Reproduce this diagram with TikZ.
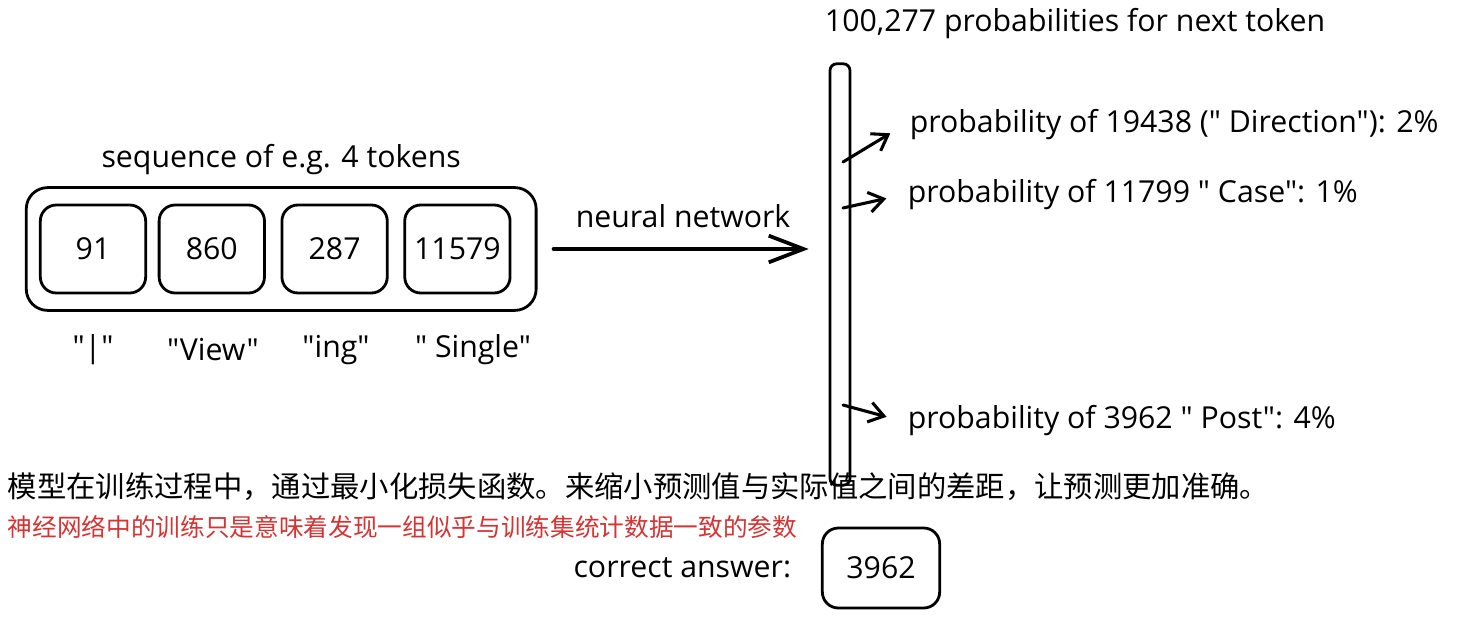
\documentclass[tikz,border=0pt]{standalone}
\usepackage{fontspec}
\setmainfont{Open Sans}[Ligatures={TeXOff,NoCommon}]
\newfontfamily\cjk{Noto Sans CJK SC}
\usetikzlibrary{arrows.meta, positioning, calc, fit}
\definecolor{notered}{RGB}{214,51,51}

\begin{document}
\begin{tikzpicture}[x=0.75pt, y=-0.75pt, line width=2.1pt, node distance=12pt,
		every node/.style={font=\fontsize{22.7}{27}\selectfont},
		tok/.style={draw, rounded corners=12pt, minimum width=79pt, minimum height=66pt, inner sep=0pt},
		arr/.style={-{Straight Barb[length=11pt, width=15pt]}, line width=2.3pt, line cap=round}]
	\useasboundingbox (0,0) rectangle (1476,620);
		\node[tok] (t1) at (93,249) {91};
		\node[tok, right=8pt of t1] (t2) {860};
		\node[tok, right=11pt of t2] (t3) {287};
		\node[tok, right=11pt of t3] (t4) {11579};
		\node[draw, rounded corners=16pt, fit=(t1)(t4), inner xsep=14pt, inner ysep=12pt, xshift=4.5pt] (seq) {};
		\node[above=4pt of seq] {sequence of e.g. 4 tokens};
			\node at (93,350) {"|"};
			\node at (213,350) {"View"};
			\node at (336,350) {"ing"};
			\node at (473,350) {" Single"};
		\node[draw, rounded corners=5pt, minimum width=15pt, minimum height=316pt] (bar) at (840,274.5) {};
		\node at (1075,24) {100,277 probabilities for next token};
		\draw[-{Straight Barb[length=26pt, width=20pt]}, line width=2.8pt, line cap=round, shorten <=12pt, shorten >=15pt] (seq.east) -- node[above=11pt] {neural network} (seq.east -| bar.west);
			\node[anchor=west] (l1) at (904,125) {probability of 19438 (" Direction"): 2\%};
			\node[anchor=west] (l2) at (902,195) {probability of 11799 " Case": 1\%};
			\node[anchor=west] (l3) at (902,421) {probability of 3962 " Post": 4\%};
			\coordinate (p1) at (843,162);
			\coordinate (p2) at (843,208);
			\coordinate (p3) at (843,405);
		\foreach \i in {1,2,3}
			\draw[arr, shorten >=12pt] (p\i) -- (l\i.west);
		\node[anchor=west, font=\cjk\fontsize{22}{26}\selectfont] (loss) at (2,487) {模型在训练过程中，通过最小化损失函数。来缩小预测值与实际值之间的差距，让预测更加准确。};
		\node[anchor=west, text=notered, font=\cjk\fontsize{18.5}{22}\selectfont] (note) at (2,527) {神经网络中的训练只是意味着发现一组似乎与训练集统计数据一致的参数};
		\node[tok, minimum width=88pt, minimum height=60pt] (ans) at (881,568) {3962};
		\node[left=18pt of ans] {correct answer:};
\end{tikzpicture}
\end{document}
